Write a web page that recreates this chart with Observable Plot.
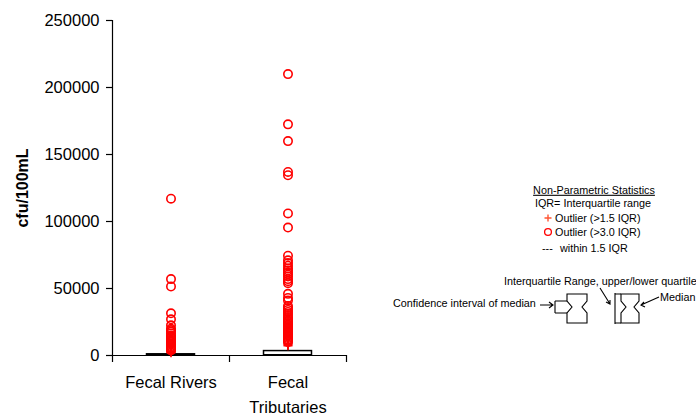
<!DOCTYPE html>
<html>
<head>
<meta charset="utf-8">
<script src="https://cdn.jsdelivr.net/npm/d3@7"></script>
<script src="https://cdn.jsdelivr.net/npm/@observablehq/plot@0.6"></script>
<style>
  html, body { margin: 0; padding: 0; background: #fff; }
  #chart svg { font-family: "Liberation Sans", Arial, sans-serif; }
</style>
</head>
<body>
<div id="chart"></div>
<script>
// ---- data ----
const categories = ["Fecal Rivers", "Fecal Tributaries"];
const xTickLabels = ["Fecal Rivers", "Fecal\nTributaries"];
const yTicks = [0, 50000, 100000, 150000, 200000, 250000];

const boxQ1 = [0, 100];
const boxMedian = [150, 600];
const boxQ3 = [900, 3300];
const whiskerHigh = [1800, 6500];

const riversFar = [117000, 57000, 51500, 31500, 27000, 22500, 20000, 19000, 18000, 16500, 15000,
  14000, 13000, 12000, 11000, 10000, 9000, 8000, 7000, 6000, 5200, 4500, 3800];
const riversMild = [3200, 2600, 2100];
const tribFar = [210000, 172500, 160000, 137000, 134500, 106000, 95500, 74500, 71000, 69000, 67000,
  65000, 63500, 62000, 60500, 59000, 57000, 55500, 54000, 46000, 43000, 41000, 37000, 35500, 34000,
  32500, 31000, 29500, 28000, 27000, 26000, 25000, 24000, 23000, 22000, 21000, 20000, 19000, 18000,
  17000, 16000, 15000, 14000, 13000, 12000, 11000, 10000];
const tribMild = [9000, 8000, 7200];

// ---- tables ----
const boxes = categories.map((c, i) => ({
  i, q1: boxQ1[i], med: boxMedian[i], q3: boxQ3[i], hi: whiskerHigh[i]
}));
const far = [
  ...riversFar.map(v => ({i: 0, v})),
  ...tribFar.map(v => ({i: 1, v}))
];
const mild = [
  ...riversMild.map(v => ({i: 0, v})),
  ...tribMild.map(v => ({i: 1, v}))
];
const halfBox = 0.205;
const red = "#ff0000";

const plot = Plot.plot({
  width: 696,
  height: 415,
  marginLeft: 112,
  marginRight: 350,
  marginTop: 20,
  marginBottom: 60,
  style: {fontFamily: "'Liberation Sans', Arial, sans-serif", background: "#fff", color: "#000"},
  x: {domain: [0, categories.length]},
  y: {domain: [0, 250000]},
  marks: [
    Plot.axisY({ticks: yTicks, tickSize: 6, tickPadding: 7, fontSize: 16.5, tickFormat: d3.format("d"), label: null, strokeWidth: 1.2}),
    Plot.axisX({ticks: d3.range(categories.length + 1), tickSize: 7, tickFormat: () => "", label: null, strokeWidth: 1.2}),
    Plot.text(xTickLabels, {
      x: (d, i) => i + 0.5, y: 0, text: d => d, fontSize: 16.5, lineAnchor: "top",
      dy: 15, lineHeight: 1.5, fill: "#000"
    }),
    Plot.text(["cfu/100mL"], {
      frameAnchor: "left", textAnchor: "middle", y: 125000, text: d => d, rotate: -90, dx: -90,
      fontSize: 16, fontWeight: "bold", fill: "#000"
    }),
    Plot.rect(boxes, {
      x1: d => d.i + 0.5 - halfBox, x2: d => d.i + 0.5 + halfBox,
      y1: "q1", y2: "q3", fill: "#fff", stroke: "#000", strokeWidth: 1.5
    }),
    Plot.ruleY(boxes, {
      x1: d => d.i + 0.5 - halfBox, x2: d => d.i + 0.5 + halfBox,
      y: "med", stroke: "#000", strokeWidth: 1.5
    }),
    Plot.ruleX(boxes, {x: d => d.i + 0.5, y1: "q3", y2: "hi", stroke: "#000", strokeWidth: 1.2}),
    Plot.ruleX([0], {stroke: "#000", strokeWidth: 1.2}),
    Plot.ruleY([0], {stroke: "#000", strokeWidth: 1.2}),
    Plot.dot(mild, {x: d => d.i + 0.5, y: "v", symbol: "plus", r: 3, stroke: red, strokeWidth: 1.5}),
    Plot.dot(far, {x: d => d.i + 0.5, y: "v", r: 4.2, stroke: red, strokeWidth: 1.6, fill: "none"})
  ]
});

// ---- legend (schematic, drawn onto the same SVG) ----
const svg = d3.select(plot);
const lg = svg.append("g")
  .attr("font-family", "'Liberation Sans', Arial, sans-serif")
  .attr("font-size", 10.8)
  .attr("fill", "#000");

function txt(x, y, s, anchor = "start") {
  return lg.append("text").attr("x", x).attr("y", y).attr("dy", "0.35em")
    .attr("text-anchor", anchor).text(s);
}
txt(594, 190, "Non-Parametric Statistics", "middle").attr("text-decoration", "underline");
txt(593, 203, "IQR= Interquartile range", "middle");
lg.append("path").attr("d", "M544.5,218h7M548,214.5v7").attr("stroke", "#ff5533").attr("stroke-width", 1.4).attr("fill", "none");
txt(555, 218, "Outlier (>1.5 IQR)");
lg.append("circle").attr("cx", 548).attr("cy", 232).attr("r", 3.4).attr("stroke", red).attr("stroke-width", 1.3).attr("fill", "none");
txt(555, 232, "Outlier (>3.0 IQR)");
txt(542, 248, "---");
txt(560, 248, "within 1.5 IQR");

txt(504, 281, "Interquartile Range, upper/lower quartile");
txt(393, 303, "Confidence interval of median");
txt(660, 297, "Median");

function notched(L, R, T, B, nT, nB, d) {
  const M = (nT + nB) / 2;
  return `M${L},${T}H${R}V${nT}L${R - d},${M}L${R},${nB}V${B}H${L}V${nB}L${L + d},${M}L${L},${nT}Z`;
}
function path(d) {
  return lg.append("path").attr("d", d)
    .attr("stroke", "#000").attr("stroke-width", 1.1).attr("fill", "none");
}
// glyph 1: confidence interval bracket + notched box
path("M555,301V313M555,301H567M555,313H567");
path(notched(567, 587, 294, 323, 301, 313, 5));
path("M540,305H553M549,302L553,305L549,308");
// glyph 2: whisker + notched box
path("M615,293V324M615,294H621M615,323H621");
path(notched(621, 639, 294, 323, 301, 313, 5));
path("M600,288L610,304M606,302L610,304L610,300");
path("M659,297L641,305M644,302L641,305L645,307");

document.getElementById("chart").appendChild(plot);
</script>
</body>
</html>
